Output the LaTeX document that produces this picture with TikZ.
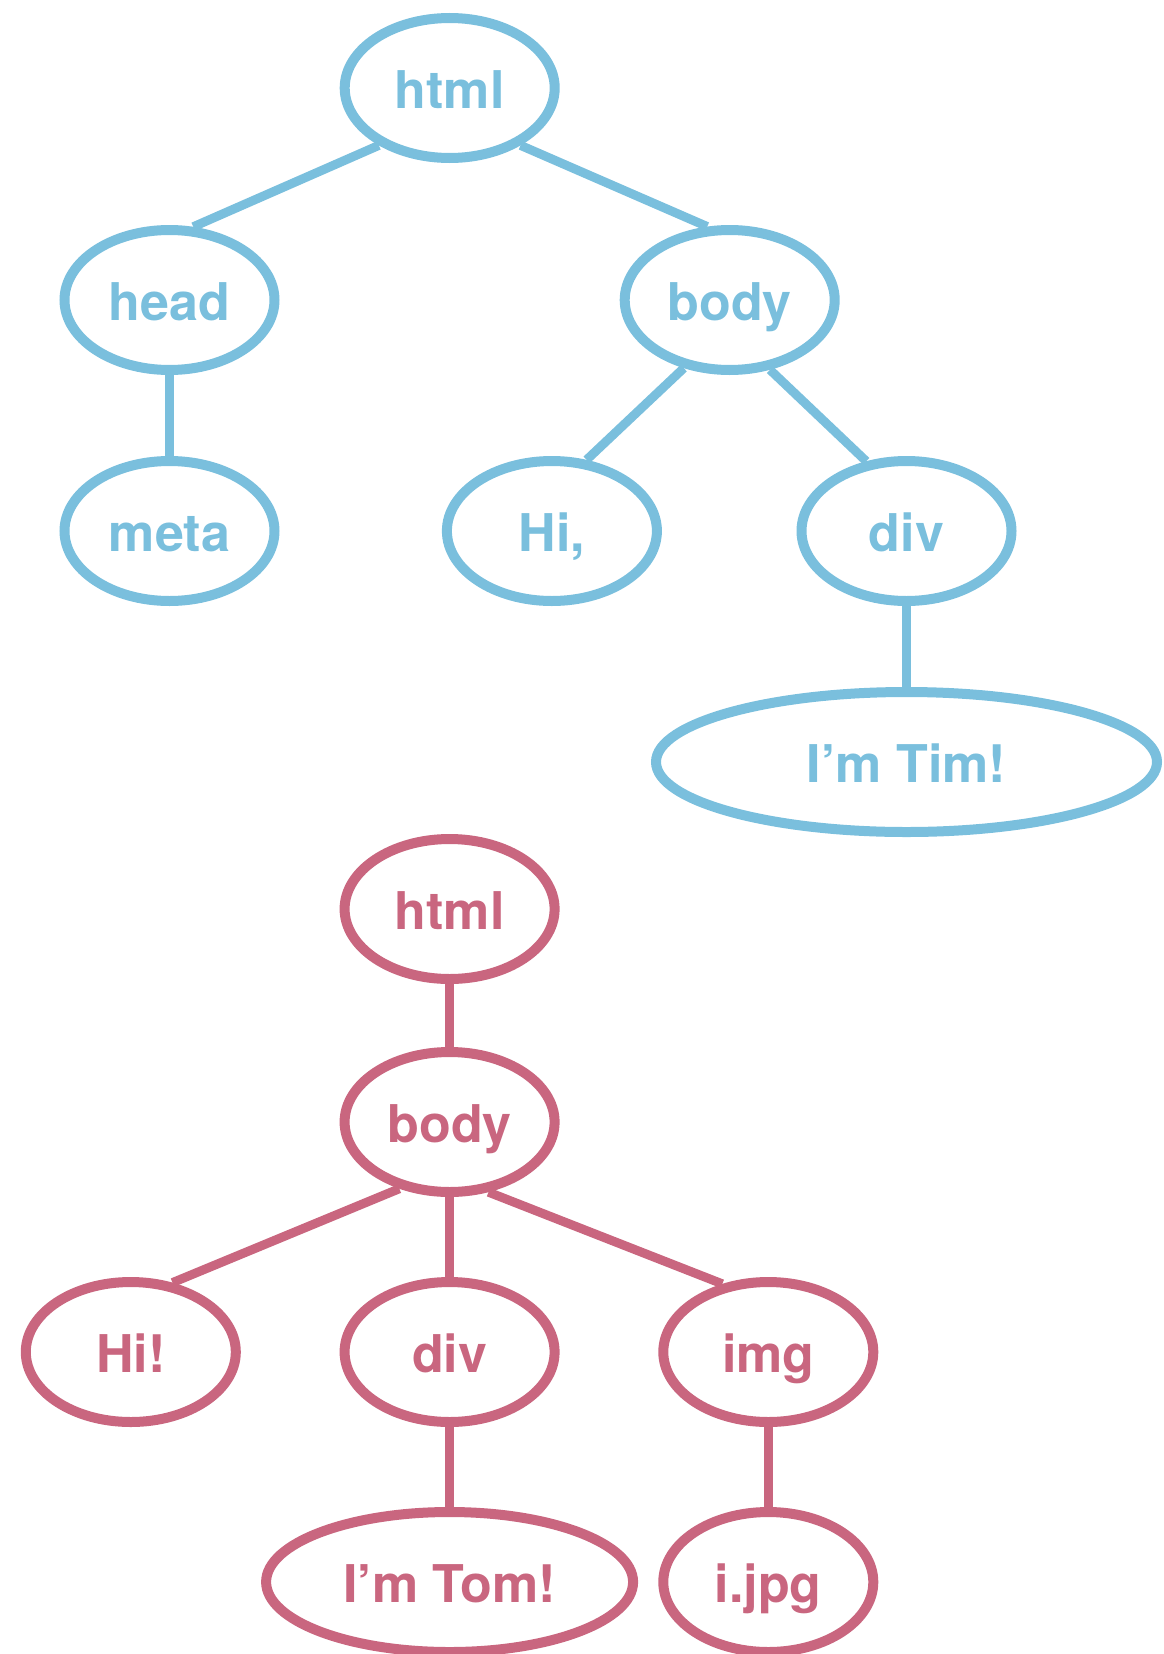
\documentclass[tikz,border=0pt]{standalone}
\usepackage{fontspec}
\setmainfont{TeX Gyre Heros}
\usepackage{tikz}
\usetikzlibrary{shapes.geometric}
\definecolor{timblue}{HTML}{7ABFDD}
\definecolor{tomred}{HTML}{C9667F}
\begin{document}
\begin{tikzpicture}[x=1pt,y=-1pt,
	tag/.style={ellipse,draw,line width=10pt,inner sep=0pt,minimum width=210pt,minimum height=140pt,text height=50pt,text depth=9pt,font=\fontsize{52}{60}\selectfont\bfseries},
	wide/.style={tag,minimum width=#1},
	bluetag/.style={tag,draw=timblue,text=timblue},
	redtag/.style={tag,draw=tomred,text=tomred},
	bluelink/.style={draw=timblue,line width=9pt},
	redlink/.style={draw=tomred,line width=9pt}]
		\useasboundingbox (0,0) rectangle (1164,1654);
		% Tim
		\node[bluetag] (html1) at (449.7,88) {html};
		\node[bluetag] (head) at (169.5,300) {head};
		\node[bluetag] (body1) at (729.7,300) {body};
		\node[bluetag] (meta) at (169.5,531) {meta};
		\node[bluetag] (hi1) at (551.9,531) {Hi,};
		\node[bluetag] (div1) at (906.5,531) {div};
		\node[bluetag,wide=501pt] (tim) at (906.5,762) {I’m Tim!};
		\draw[bluelink] (html1.219) -- (head.72);
		\draw[bluelink] (html1.-39) -- (body1.107);
		\draw[bluelink] (head.south) -- (meta.north);
		\draw[bluelink] (body1.-124) -- (hi1.64);
		\draw[bluelink] (body1.-60) -- (div1.120);
		\draw[bluelink] (div1.south) -- (tim.north);
		% Tom
		\node[redtag] (html2) at (449.6,909) {html};
		\node[redtag] (body2) at (449.6,1122) {body};
		\node[redtag] (hi2) at (130.8,1352) {Hi!};
		\node[redtag] (div2) at (449.6,1352) {div};
		\node[redtag] (img) at (768.3,1352) {img};
		\node[redtag,wide=367pt] (tom) at (449.6,1582) {I’m Tom!};
		\node[redtag] (jpg) at (768.3,1582) {i.jpg};
		\draw[redlink] (html2.south) -- (body2.north);
		\draw[redlink] (body2.-127) -- (hi2.59);
		\draw[redlink] (body2.south) -- (div2.north);
		\draw[redlink] (body2.-61) -- (img.124);
		\draw[redlink] (div2.south) -- (tom.north);
		\draw[redlink] (img.south) -- (jpg.north);
	\end{tikzpicture}
\end{document}
